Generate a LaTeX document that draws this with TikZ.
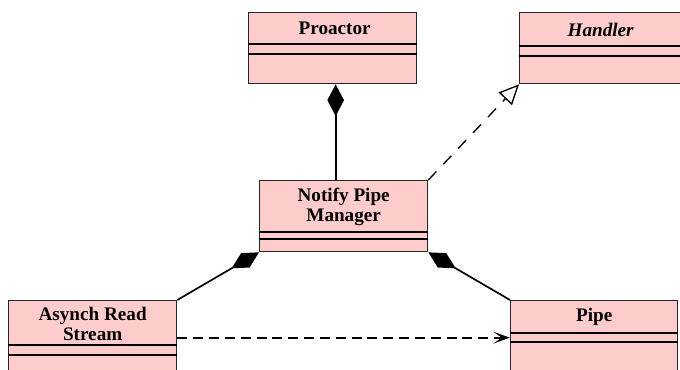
\documentclass[tikz,border=0pt]{standalone}
\usepackage{fontspec}
\setmainfont{Liberation Serif}
\usetikzlibrary{arrows.meta, positioning, calc}
\definecolor{clsfill}{HTML}{FFCCCC}

\begin{document}
\begin{tikzpicture}[x=0.6pt, y=-0.6pt]
		% Define styles for class boxes, names and links
		\tikzstyle{cls} = [rectangle, draw=black!85, fill=clsfill, line width=0.8pt, inner sep=0pt, minimum width=100.8pt, minimum height=42.6pt, anchor=north west]
		\tikzstyle{clsline} = [line width=0.8pt]
		\tikzstyle{clsname} = [font=\fontsize{11.5}{12}\selectfont\bfseries, align=center, inner sep=0pt]
		\tikzstyle{comp} = [line width=1pt, {Diamond[length=19pt, width=10pt]}-]
		\tikzstyle{realize} = [line width=0.8pt, dash pattern=on 7pt off 6pt, -{Triangle[open, fill=white, length=12pt, width=11pt]}]
		\tikzstyle{depend} = [line width=1.1pt, dash pattern=on 6pt off 3.5pt, -{Stealth[length=10pt, width=7pt, inset=5pt]}]
		
		\useasboundingbox (0,0) rectangle (680,369);
		
		% Draw the class boxes
		\node[cls] (proactor) at (248,12) {};
		\node[cls] (handler) at (519,12) {};
		\node[cls] (npm) at (259,180) {};
		\node[cls] (asynch) at (8,300) {};
		\node[cls, minimum width=100.2pt] (pipe) at (510,300) {};
		
		% Split each box into its compartments
		\draw[clsline] ($(proactor.north west)+(0,32)$) -- ($(proactor.north east)+(0,32)$);
		\draw[clsline] ($(proactor.north west)+(0,42)$) -- ($(proactor.north east)+(0,42)$);
		\draw[clsline] ($(handler.north west)+(0,34)$) -- ($(handler.north east)+(0,34)$);
		\draw[clsline] ($(handler.north west)+(0,44)$) -- ($(handler.north east)+(0,44)$);
		\draw[clsline] ($(npm.north west)+(0,52)$) -- ($(npm.north east)+(0,52)$);
		\draw[clsline] ($(npm.north west)+(0,59)$) -- ($(npm.north east)+(0,59)$);
		\draw[clsline] ($(asynch.north west)+(0,45)$) -- ($(asynch.north east)+(0,45)$);
		\draw[clsline] ($(asynch.north west)+(0,55)$) -- ($(asynch.north east)+(0,55)$);
		\draw[clsline] ($(pipe.north west)+(0,33)$) -- ($(pipe.north east)+(0,33)$);
		\draw[clsline] ($(pipe.north west)+(0,42)$) -- ($(pipe.north east)+(0,42)$);
		
		% Class names
		\node[clsname] (proactor-name) at ($(proactor.north)+(2,16.5)$) {Proactor};
		\node[clsname] (handler-name) at ($(handler.north)+(-3,17.5)$) {\itshape Handler};
		\node[clsname] (npm-name) at ($(npm.north)+(0,27)$) {Notify Pipe\\Manager};
		\node[clsname] (asynch-name) at ($(asynch.north)+(0,23.5)$) {Asynch Read\\Stream};
		\node[clsname] (pipe-name) at ($(pipe.north)+(0,17)$) {Pipe};
		
		% Links between the classes
		\path (proactor.south) ++(3,0) coordinate (pa);
		\draw[comp] (pa) -- (pa |- npm.north);
		\draw[realize] (npm.north east) -- (handler.south west);
		\draw[comp] (npm.south west) -- (asynch.north east);
		\draw[comp] (npm.south east) -- (pipe.north west);
		\draw[depend] ($(asynch.east)+(0,1.5)$) -- ($(pipe.west)+(0,1.5)$);
	
	\end{tikzpicture}
\end{document}
